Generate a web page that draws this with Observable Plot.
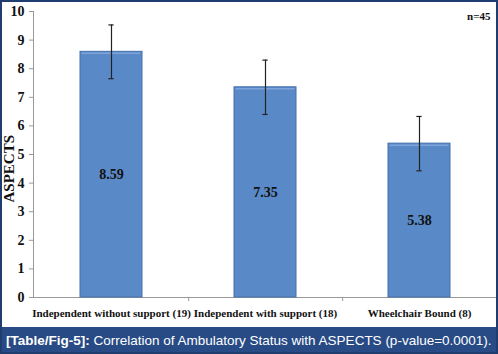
<!DOCTYPE html>
<html><head><meta charset="utf-8">
<script src="https://cdn.jsdelivr.net/npm/d3@7"></script>
<script src="https://cdn.jsdelivr.net/npm/@observablehq/plot@0.6"></script>
<style>
html,body{margin:0;padding:0;background:#fff;}
#wrap{width:498px;height:354px;box-sizing:border-box;border:2px solid #1f3d6e;position:relative;overflow:hidden;background:#fff;}
#chart svg{display:block;}
#caption{position:absolute;left:0;right:0;bottom:0;height:25px;background:#284b86;color:#fff;font-family:"Liberation Sans",Arial,sans-serif;font-size:13.5px;line-height:27px;padding-left:4px;white-space:nowrap;}
#caption b{font-weight:bold;}
</style></head><body>
<div id="wrap"><div id="chart"></div><div id="caption"><b>[Table/Fig-5]:</b> Correlation of Ambulatory Status with ASPECTS (p-value=0.0001).</div></div>
<script>
const categories = ["Independent without support (19)", "Independent with support (18)", "Wheelchair Bound (8)"];
const means = [8.59, 7.35, 5.38];
const sds = [0.94, 0.95, 0.95];
const yTicks = [0, 1, 2, 3, 4, 5, 6, 7, 8, 9, 10];
const annotation = ["n=45"];
const yLabel = "ASPECTS";

const data = categories.map((c, i) => ({cat: c, mean: means[i], sd: sds[i]}));

const W = 494, H = 325, ML = 31, MR = 0, MT = 9, MB = 30;
const step = (W - ML - MR) / categories.length;
const bw = step * 0.4;
const serif = "'Liberation Serif', 'Times New Roman', serif";

const chart = Plot.plot({
  width: W, height: H,
  marginLeft: ML, marginRight: MR, marginTop: MT, marginBottom: MB,
  style: {fontFamily: serif, background: "white"},
  x: {domain: categories, paddingInner: 0.6, paddingOuter: 0.3, axis: null},
  y: {domain: [0, 10], axis: null},
  marks: [
    Plot.frame({anchor: "left", stroke: "#999"}),
    Plot.ruleY([0], {stroke: "#999"}),
    Plot.axisY({ticks: yTicks, tickSize: 4, tickPadding: 5, stroke: "#999", fill: "#111", fontSize: 14, fontWeight: "bold", label: null}),
    Plot.axisX({tickSize: 0, tickPadding: 12, fill: "#111", fontSize: 11, fontWeight: "bold", label: null}),
    Plot.axisX(categories.slice(0, -1), {tickSize: 4, dx: step / 2, stroke: "#999", tickFormat: () => "", label: null}),
    Plot.barY(data, {x: "cat", y: "mean", fill: "#5a89c7", stroke: "#4270ad", strokeWidth: 1}),
    Plot.tickY(data, {x: "cat", y: "mean", stroke: "#7ea4d9", strokeWidth: 1.5, insetLeft: 1.5, insetRight: 1.5, dy: 1.5}),
    Plot.ruleX(data, {x: "cat", y1: d => d.mean - d.sd, y2: d => d.mean + d.sd, stroke: "#222", strokeWidth: 1.2}),
    Plot.tickY(data, {x: "cat", y: d => d.mean + d.sd, stroke: "#222", strokeWidth: 1.2, insetLeft: (bw - 5) / 2, insetRight: (bw - 5) / 2}),
    Plot.tickY(data, {x: "cat", y: d => d.mean - d.sd, stroke: "#222", strokeWidth: 1.2, insetLeft: (bw - 5) / 2, insetRight: (bw - 5) / 2}),
    Plot.text(data, {x: "cat", y: d => d.mean / 2, text: d => d.mean.toFixed(2), fill: "#111", fontSize: 14, fontWeight: "bold"}),
    Plot.text(annotation, {frameAnchor: "top-right", text: d => d, dx: -6, dy: 1, lineAnchor: "top", fill: "#111", fontSize: 11, fontWeight: "bold"}),
    Plot.text([yLabel], {frameAnchor: "left", text: d => d, rotate: -90, dx: -24, dy: 48, fill: "#111", fontSize: 15, fontWeight: "bold"})
  ]
});
document.getElementById("chart").appendChild(chart);
</script>
</body></html>
